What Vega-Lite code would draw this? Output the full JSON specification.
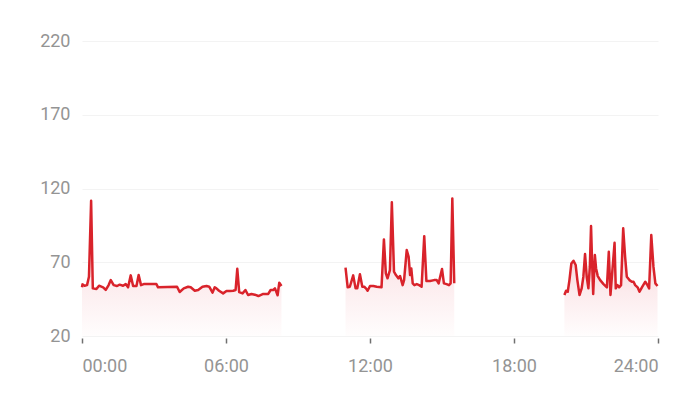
{
  "$schema": "https://vega.github.io/schema/vega-lite/v6.json",
  "width": 576,
  "height": 295,
  "autosize": {"type": "none"},
  "padding": {"left": 82, "top": 41, "right": 35, "bottom": 64},
  "background": "#ffffff",
  "config": {"view": {"stroke": null}, "font": "Roboto"},
  "datasets": {
    "hr": [
      {"h":0.0,"v":53.0,"s":1},{"h":0.02,"v":55.0,"s":1},{"h":0.11,"v":54.1,"s":1},{"h":0.21,"v":54.5,"s":1},{"h":0.29,"v":60.2,"s":1},{"h":0.38,"v":111.7,"s":1},{"h":0.45,"v":52.3,"s":1},{"h":0.60,"v":51.8,"s":1},{"h":0.71,"v":54.1,"s":1},{"h":0.88,"v":53.0,"s":1},{"h":0.99,"v":51.2,"s":1},{"h":1.11,"v":54.5,"s":1},{"h":1.20,"v":57.9,"s":1},{"h":1.32,"v":54.5,"s":1},{"h":1.46,"v":53.9,"s":1},{"h":1.57,"v":54.8,"s":1},{"h":1.71,"v":54.1,"s":1},{"h":1.82,"v":55.2,"s":1},{"h":1.92,"v":53.0,"s":1},{"h":2.03,"v":61.1,"s":1},{"h":2.13,"v":53.9,"s":1},{"h":2.27,"v":53.9,"s":1},{"h":2.36,"v":61.3,"s":1},{"h":2.46,"v":54.5,"s":1},{"h":2.57,"v":55.2,"s":1},{"h":3.10,"v":55.2,"s":1},{"h":3.17,"v":53.0,"s":1},{"h":3.96,"v":53.4,"s":1},{"h":4.07,"v":49.8,"s":1},{"h":4.24,"v":52.3,"s":1},{"h":4.42,"v":53.4,"s":1},{"h":4.53,"v":53.0,"s":1},{"h":4.70,"v":50.7,"s":1},{"h":4.84,"v":51.2,"s":1},{"h":5.02,"v":53.4,"s":1},{"h":5.19,"v":53.9,"s":1},{"h":5.30,"v":53.4,"s":1},{"h":5.44,"v":49.4,"s":1},{"h":5.53,"v":53.0,"s":1},{"h":5.60,"v":52.3,"s":1},{"h":5.71,"v":50.7,"s":1},{"h":5.88,"v":48.9,"s":1},{"h":6.02,"v":50.5,"s":1},{"h":6.16,"v":50.5,"s":1},{"h":6.30,"v":50.7,"s":1},{"h":6.40,"v":51.2,"s":1},{"h":6.47,"v":65.6,"s":1},{"h":6.55,"v":49.8,"s":1},{"h":6.69,"v":48.9,"s":1},{"h":6.81,"v":51.2,"s":1},{"h":6.92,"v":47.8,"s":1},{"h":7.06,"v":48.5,"s":1},{"h":7.20,"v":48.0,"s":1},{"h":7.35,"v":47.1,"s":1},{"h":7.55,"v":48.5,"s":1},{"h":7.76,"v":48.5,"s":1},{"h":7.86,"v":51.2,"s":1},{"h":7.97,"v":51.2,"s":1},{"h":8.04,"v":52.3,"s":1},{"h":8.15,"v":47.6,"s":1},{"h":8.22,"v":56.1,"s":1},{"h":8.31,"v":53.9,"s":1},
      {"h":10.98,"v":66.3,"s":2},{"h":11.07,"v":53.0,"s":2},{"h":11.16,"v":53.4,"s":2},{"h":11.30,"v":61.1,"s":2},{"h":11.40,"v":52.3,"s":2},{"h":11.47,"v":52.3,"s":2},{"h":11.58,"v":61.8,"s":2},{"h":11.68,"v":53.4,"s":2},{"h":11.76,"v":53.4,"s":2},{"h":11.83,"v":52.3,"s":2},{"h":11.90,"v":50.7,"s":2},{"h":12.00,"v":53.9,"s":2},{"h":12.14,"v":53.9,"s":2},{"h":12.28,"v":53.4,"s":2},{"h":12.48,"v":53.0,"s":2},{"h":12.58,"v":85.5,"s":2},{"h":12.66,"v":62.5,"s":2},{"h":12.73,"v":59.1,"s":2},{"h":12.83,"v":64.7,"s":2},{"h":12.91,"v":110.6,"s":2},{"h":13.00,"v":63.6,"s":2},{"h":13.08,"v":61.3,"s":2},{"h":13.18,"v":59.1,"s":2},{"h":13.25,"v":60.7,"s":2},{"h":13.36,"v":54.5,"s":2},{"h":13.42,"v":57.9,"s":2},{"h":13.53,"v":78.3,"s":2},{"h":13.61,"v":73.7,"s":2},{"h":13.67,"v":61.3,"s":2},{"h":13.72,"v":65.8,"s":2},{"h":13.78,"v":55.7,"s":2},{"h":13.85,"v":54.5,"s":2},{"h":13.95,"v":55.2,"s":2},{"h":14.05,"v":54.5,"s":2},{"h":14.15,"v":53.4,"s":2},{"h":14.26,"v":87.7,"s":2},{"h":14.35,"v":57.3,"s":2},{"h":14.50,"v":57.3,"s":2},{"h":14.67,"v":57.9,"s":2},{"h":14.78,"v":57.9,"s":2},{"h":14.86,"v":55.7,"s":2},{"h":15.00,"v":65.4,"s":2},{"h":15.08,"v":55.7,"s":2},{"h":15.19,"v":55.2,"s":2},{"h":15.29,"v":54.5,"s":2},{"h":15.36,"v":55.7,"s":2},{"h":15.43,"v":113.3,"s":2},{"h":15.51,"v":55.7,"s":2},
      {"h":20.10,"v":47.8,"s":3},{"h":20.17,"v":50.7,"s":3},{"h":20.24,"v":50.0,"s":3},{"h":20.31,"v":57.9,"s":3},{"h":20.39,"v":69.2,"s":3},{"h":20.48,"v":71.0,"s":3},{"h":20.57,"v":68.1,"s":3},{"h":20.64,"v":57.9,"s":3},{"h":20.73,"v":47.8,"s":3},{"h":20.82,"v":52.3,"s":3},{"h":20.89,"v":60.2,"s":3},{"h":20.96,"v":75.6,"s":3},{"h":21.03,"v":60.2,"s":3},{"h":21.10,"v":52.3,"s":3},{"h":21.16,"v":67.0,"s":3},{"h":21.21,"v":94.5,"s":3},{"h":21.26,"v":67.0,"s":3},{"h":21.30,"v":48.5,"s":3},{"h":21.37,"v":74.9,"s":3},{"h":21.42,"v":65.8,"s":3},{"h":21.49,"v":60.6,"s":3},{"h":21.59,"v":57.9,"s":3},{"h":21.73,"v":55.2,"s":3},{"h":21.87,"v":53.0,"s":3},{"h":21.95,"v":77.1,"s":3},{"h":22.02,"v":47.8,"s":3},{"h":22.09,"v":62.5,"s":3},{"h":22.19,"v":83.2,"s":3},{"h":22.24,"v":52.3,"s":3},{"h":22.31,"v":54.5,"s":3},{"h":22.38,"v":53.0,"s":3},{"h":22.46,"v":54.5,"s":3},{"h":22.55,"v":93.0,"s":3},{"h":22.63,"v":73.7,"s":3},{"h":22.70,"v":60.2,"s":3},{"h":22.81,"v":57.9,"s":3},{"h":22.91,"v":56.8,"s":3},{"h":22.98,"v":56.8,"s":3},{"h":23.05,"v":54.5,"s":3},{"h":23.15,"v":53.0,"s":3},{"h":23.23,"v":50.0,"s":3},{"h":23.33,"v":53.0,"s":3},{"h":23.47,"v":56.8,"s":3},{"h":23.56,"v":54.5,"s":3},{"h":23.63,"v":52.3,"s":3},{"h":23.72,"v":88.4,"s":3},{"h":23.81,"v":67.0,"s":3},{"h":23.89,"v":55.7,"s":3},{"h":23.98,"v":53.9,"s":3}
    ]
  },
  "data": {"name": "hr"},
  "encoding": {
    "x": {
      "field": "h", "type": "quantitative",
      "scale": {"domain": [0, 24], "nice": false, "zero": false},
      "axis": {
        "title": null, "values": [0, 6, 12, 18, 24], "grid": false, "domain": false,
        "offset": 2, "tickSize": 5, "tickWidth": 1.5, "tickColor": "#707070",
        "labelExpr": "(datum.value < 10 ? '0' : '') + datum.value + ':00'",
        "labelFont": "Roboto", "labelFontSize": 18, "labelColor": "#949494",
        "labelPadding": 14, "labelFlush": true
      }
    },
    "y": {
      "field": "v", "type": "quantitative",
      "scale": {"domain": [20, 220], "nice": false, "zero": false},
      "axis": {
        "title": null, "values": [20, 70, 120, 170, 220], "grid": true,
        "gridColor": "#f3f3f3", "gridWidth": 1, "domain": false, "ticks": false,
        "labelFont": "Roboto", "labelFontSize": 18, "labelColor": "#949494",
        "labelPadding": 12
      }
    },
    "detail": {"field": "s", "type": "nominal"}
  },
  "layer": [
    {
      "mark": {
        "type": "area", "interpolate": "linear",
        "fill": {
          "gradient": "linear", "x1": 0, "y1": 0, "x2": 0, "y2": 1,
          "stops": [
            {"offset": 0, "color": "#f6c3c9"},
            {"offset": 0.6, "color": "#fcebed"},
            {"offset": 1, "color": "#fffdfd"}
          ]
        }
      },
      "encoding": {"y2": {"datum": 20}}
    },
    {
      "mark": {"type": "line", "interpolate": "linear", "color": "#d9232b", "strokeWidth": 2.5, "strokeJoin": "round"},
      "encoding": {}
    }
  ]
}
